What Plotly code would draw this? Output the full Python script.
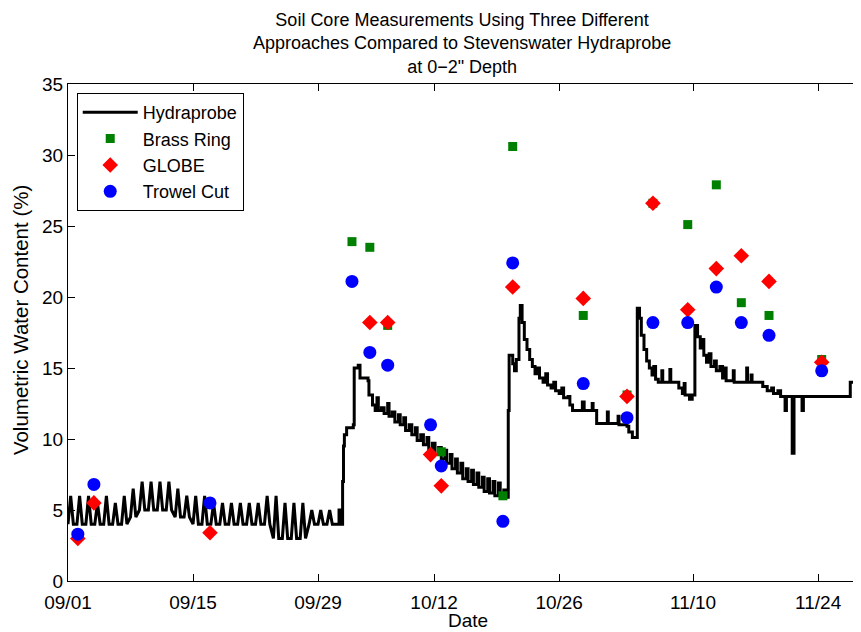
import pandas as pd
import plotly.graph_objects as go

BASE = pd.Timestamp("2012-09-01")

# ---- Hydraprobe: daily oscillation period (day offset 0..29 from 09/01) ----
osc_hi = [6, 6, 6, 5.5, 6, 5.5, 6, 6.5, 7, 7, 7, 7, 6.5, 6, 6, 6, 5.5, 5.5, 5.5, 5.5,
          5.5, 5.5, 6, 6, 5.5, 5.5, 5.5, 5, 5, 5]
osc_lo = [4, 4, 4, 4, 4, 4, 4, 4.5, 5, 5, 5, 5, 4.5, 4.5, 4, 4, 4, 4, 4, 4,
          4, 4, 4, 3, 3, 3, 3, 4, 4, 4]

# ---- Hydraprobe: wetting/drying period (day offset, VWC %), step values ----
hyd_day = [30.0, 30.35, 30.6, 30.75, 30.85, 30.95, 31.2, 31.95, 32.05, 32.5, 32.7, 33.6,
           33.7, 34.1, 34.4, 34.6, 34.75, 35.1, 35.4, 35.8, 35.95, 36.3, 36.6, 37.0,
           37.2, 37.6, 37.8, 38.2, 38.5, 38.9, 39.1, 39.5, 39.8, 40.2, 40.4, 40.8,
           41.1, 41.5, 41.8, 42.2, 42.4, 42.8, 43.0, 43.4, 43.6, 44.0, 44.2, 44.6,
           44.8, 45.2, 45.4, 45.8, 46.0, 46.4, 46.6, 47.0, 47.2, 47.6, 47.8, 48.2,
           48.4, 48.8, 49.0, 49.3, 49.4, 49.8, 50.0, 50.2, 50.5, 50.65, 50.85, 51.1,
           51.4, 51.7, 52.0, 52.3, 52.6, 52.8, 53.2, 53.5, 53.7, 54.1, 54.4, 54.6,
           55.0, 55.3, 55.5, 56.0, 56.2, 56.5, 57.6, 57.8, 58.7, 58.8, 59.2, 60.4,
           60.5, 61.6, 61.7, 62.6, 62.8, 63.2, 63.75, 64.0, 64.2, 64.5, 64.8, 65.1,
           65.4, 65.6, 65.8, 66.1, 66.5, 66.6, 67.4, 67.5, 68.4, 68.8, 69.0, 69.1,
           69.6, 69.9, 70.2, 70.5, 70.8, 71.0, 71.2, 71.5, 71.8, 72.0, 72.4, 72.6,
           73.0, 73.3, 73.6, 73.7, 74.5, 74.6, 76.0, 76.1, 76.5, 76.6, 77.8, 78.3,
           78.8, 79.0, 79.5, 79.8, 80.3, 80.45, 81.1, 81.3, 82.2, 82.35, 87.6, 90.0]
hyd_vwc = [4, 5, 4, 7, 9.5, 10.3, 10.8, 11, 15, 15.2, 14.3, 14.1,
           13.1, 12.4, 12.0, 12.9, 12.0, 12.2, 11.8, 12.5, 11.6, 11.9, 11.2, 11.7,
           11.0, 11.5, 10.6, 11.0, 10.3, 10.8, 9.9, 10.3, 9.6, 10.1, 9.2, 9.7,
           8.9, 9.4, 8.6, 9.2, 8.3, 8.9, 7.9, 8.6, 7.6, 8.3, 7.2, 7.9,
           7.0, 7.8, 6.8, 7.6, 6.6, 7.3, 6.3, 7.2, 6.2, 7.0, 6.0, 6.9,
           6.0, 6.4, 5.9, 12, 15.9, 15.3, 14.8, 15.6, 18.5, 19.4, 18.2, 17.0,
           16.3, 15.6, 15.1, 14.6, 15.0, 14.3, 14.0, 14.6, 13.8, 13.6, 14.0, 13.4,
           13.2, 13.6, 12.9, 13.0, 12.4, 12.0, 12.6, 12.0, 12.5, 12.0, 11.1, 11.9,
           11.1, 11.6, 11.0, 10.9, 10.5, 10.1, 19.2, 18.5, 17.3, 16.3, 15.5, 15.0,
           14.5, 15.1, 14.2, 14.0, 14.8, 14.0, 14.9, 14.0, 13.6, 13.2, 13.9, 13.1,
           12.8, 13.1, 18.0, 17.2, 16.4, 17.0, 15.9, 15.4, 16.0, 15.1, 15.5, 14.8,
           15.1, 14.3, 15.0, 14.1, 14.8, 14.0, 15.0, 14.0, 14.5, 14.0, 13.7, 13.4,
           13.6, 13.2, 13.4, 13.0, 12.0, 13.0, 9.0, 13.0, 12.0, 13.0, 14.0, 14.0]

# ---- Soil core samples ----
sample_day = [1.1, 2.9, 15.9, 31.8, 33.8, 35.8, 40.6, 41.8, 48.7, 49.8, 57.7, 62.6,
              65.5, 69.4, 72.6, 75.4, 78.5, 84.4]
brass_ring = [None, None, None, 23.9, 23.5, 18.0, None, 9.1, 6.0, 30.6, 18.7, 13.1,
              26.6, 25.1, 27.9, 19.6, 18.7, 15.6]
globe = [3.0, 5.5, 3.4, None, 18.2, 18.2, 8.9, 6.7, None, 20.7, 19.9, 13.0,
         26.6, 19.1, 22.0, 22.9, 21.1, 15.4]
trowel_cut = [3.3, 6.8, 5.5, 21.1, 16.1, 15.2, 11.0, 8.1, 4.2, 22.4, 13.9, 11.5,
              18.2, 18.2, 20.7, 18.2, 17.3, 14.8]

tick_days = [0, 14, 28, 41, 55, 70, 84]
tick_text = ["09/01", "09/15", "09/29", "10/12", "10/26", "11/10", "11/24"]


def to_dt(days):
    return [BASE + pd.Timedelta(days=d) for d in days]


# build hydraprobe trace: daily spikes from hi/lo, then the stepped record
line_day, line_v = [], []
for i, (h, l) in enumerate(zip(osc_hi, osc_lo)):
    line_day += [i, i + 0.3, i + 0.6]
    line_v += [l, h, l]
for k, (d, v) in enumerate(zip(hyd_day, hyd_vwc)):
    if k > 0:
        line_day.append(d)
        line_v.append(hyd_vwc[k - 1])
    line_day.append(d)
    line_v.append(v)

FONT = "Liberation Sans, Arial, sans-serif"
W, H = 853, 624
fig = go.Figure()
fig.add_trace(go.Scatter(x=to_dt(line_day), y=line_v, mode="lines", name="Hydraprobe",
                         line=dict(color="black", width=3)))
fig.add_trace(go.Scatter(x=to_dt(sample_day), y=brass_ring, mode="markers", name="Brass Ring",
                         marker=dict(symbol="square", color="#008000", size=9)))
fig.add_trace(go.Scatter(x=to_dt(sample_day), y=globe, mode="markers", name="GLOBE",
                         marker=dict(symbol="diamond", color="#ff0000", size=12)))
fig.add_trace(go.Scatter(x=to_dt(sample_day), y=trowel_cut, mode="markers", name="Trowel Cut",
                         marker=dict(symbol="circle", color="#0000ff", size=13)))

fig.update_layout(
    width=W, height=H,
    margin=dict(l=60, r=0, t=76, b=51),
    paper_bgcolor="white", plot_bgcolor="white",
    font=dict(family=FONT, size=19, color="black"),
    title=dict(text="Soil Core Measurements Using Three Different<br>"
                    "Approaches Compared to Stevenswater Hydraprobe<br>at 0\u22122\" Depth",
               xref="paper", x=0.497, xanchor="center",
               yref="container", y=1 - 18 / H, yanchor="middle",
               font=dict(size=18, family=FONT, color="black")),
    showlegend=True,
    legend=dict(x=0.011, y=0.982, xanchor="left", yanchor="top",
                bgcolor="white", bordercolor="black", borderwidth=1,
                font=dict(size=18, family=FONT), itemwidth=55,
                tracegroupgap=0),
    xaxis=dict(type="date", range=[BASE, BASE + pd.Timedelta(days=793 / 8.93)],
               tickvals=to_dt(tick_days), ticktext=tick_text,
               ticks="inside", ticklen=7, tickcolor="black",
               showline=True, linecolor="black", linewidth=1, mirror="ticks",
               showgrid=False, zeroline=False, ticklabelstandoff=4),
    yaxis=dict(range=[0, 35], tickvals=[0, 5, 10, 15, 20, 25, 30, 35],
               ticks="inside", ticklen=7, tickcolor="black",
               showline=True, linecolor="black", linewidth=1,
               showgrid=False, zeroline=False),
    annotations=[
        dict(text="Date", xref="paper", yref="paper", x=0.504, y=-0.080,
             xanchor="center", yanchor="middle", showarrow=False,
             font=dict(size=19, family=FONT)),
        dict(text="Volumetric Water Content (%)", xref="paper", yref="paper",
             x=-0.0605, y=0.525, xanchor="center", yanchor="middle",
             textangle=-90, showarrow=False, font=dict(size=20.5, family=FONT)),
    ],
)

fig.write_html("out.html")
